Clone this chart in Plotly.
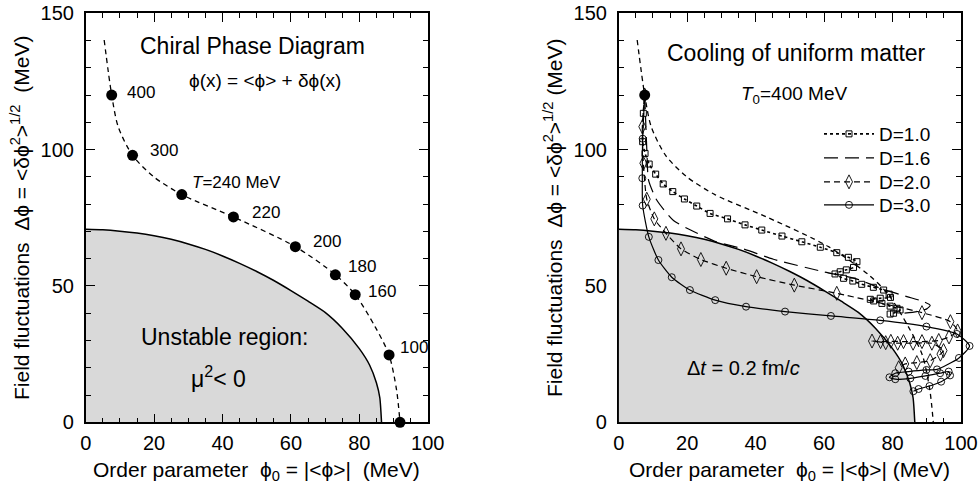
import plotly.graph_objects as go

# ---------------- data ----------------
# instability boundary (mu^2 = 0)
boundary_x = [0, 5, 10, 15, 20, 25, 30, 35, 40, 45, 50, 55, 60, 65, 70, 75, 80, 83, 85, 86, 86.5]
boundary_y = [70.8, 70.6, 70.1, 69.4, 68.4, 67.1, 65.4, 63.4, 61.0, 58.3, 55.3, 52.0, 48.3, 44.4, 40.3, 34.5, 27.0, 21.0, 14.5, 9.0, 0]

# equilibrium curve (dashed)
eq_x = [5.4, 7.6, 9.5, 13.7, 19.8, 28.1, 43.2, 61.3, 73.0, 78.8, 84.6, 88.7, 90.9, 91.9]
eq_y = [140.2, 120.0, 108.4, 97.9, 90.1, 83.5, 75.3, 64.4, 54.1, 46.8, 35.1, 24.7, 11.8, 0]

# temperature points on the equilibrium curve
temp_x = [7.6, 13.7, 28.1, 43.2, 61.3, 73.0, 78.8, 88.7, 91.9]
temp_y = [120.0, 97.9, 83.5, 75.3, 64.4, 54.1, 46.8, 24.7, 0]
temp_labels = ["400", "300", "<i>T</i>=240 MeV", "220", "200", "180", "160", "100", ""]

# cooling trajectories
d10_x = [7.6, 7.2, 7.0, 7.7, 8.9, 10.8, 13.0, 15.8, 19.2, 22.8, 26.7, 31.8, 36.9, 41.8, 47.7, 53.5, 58.9,
         63.7, 67.1, 69.6, 68.6, 66.5, 64.7, 63.2, 65.7, 68.4, 71.0, 74.4, 77.4, 79.0, 79.4, 76.4, 73.5,
         74.5, 76.9, 79.3, 81.3, 82.2, 80.3, 79.3]
d10_y = [120, 113.3, 102.9, 98.6, 94.7, 91.0, 87.4, 84.6, 81.9, 79.3, 76.6, 74.6, 72.4, 70.5, 68.3, 66.2, 64.2,
         62.2, 60.5, 58.9, 56.8, 55.9, 55.2, 54.4, 52.8, 51.8, 50.6, 49.5, 48.5, 47.0, 45.8, 45.5, 45.1,
         44.5, 43.6, 42.6, 41.8, 41.2, 40.0, 39.7]

d16_x = [7.6, 7.9, 8.3, 8.7, 11.1, 16.0, 21.0, 28.5, 36.4, 45.2, 59.8, 69.6, 77.4, 84.2, 89.0, 91.0, 90.0, 87.1, 83.5]
d16_y = [120, 110, 97.4, 88.9, 81.5, 74.0, 70.5, 66.2, 63.6, 59.8, 55.2, 52.5, 48.7, 46.1, 44.3, 42.9, 41.6, 40.6, 40.0]

d20_x = [7.6, 6.9, 7.2, 8.2, 10.4, 13.8, 18.2, 24.0, 31.4, 40.3, 51.3, 63.7, 88.6, 96.9, 99.0, 96.5, 93.5,
         88.6, 83.2, 79.5, 76.5, 74.0, 78.0, 81.5, 86.0, 91.5, 94.9, 94.0, 91.0, 87.1, 83.7, 81.8]
d20_y = [120, 108.4, 95.0, 81.8, 74.6, 69.3, 63.6, 59.7, 56.5, 53.4, 50.3, 47.3, 40.2, 36.9, 33.5, 31.3, 30.0,
         29.6, 29.6, 29.7, 29.6, 29.8, 29.2, 29.0, 29.0, 29.0, 26.3, 25.0, 22.6, 21.9, 21.4, 20.0]

d30_x = [7.6, 7.0, 6.9, 7.0, 8.8, 11.6, 15.5, 20.8, 28.2, 37.2, 48.6, 62.0, 76.4, 89.9, 98.8, 102.5, 99.4,
         93.0, 89.9, 84.7, 80.8, 79.1, 80.8, 85.2, 89.6, 93.9, 96.4, 96.8, 94.2, 90.8, 87.6, 86.1]
d30_y = [120, 104.0, 89.5, 79.5, 68.0, 59.5, 53.2, 48.5, 44.8, 42.4, 40.6, 39.0, 37.4, 35.1, 32.4, 28.0, 23.6,
         19.4, 19.2, 18.6, 18.0, 16.5, 15.8, 16.1, 17.0, 18.0, 18.6, 17.2, 14.9, 13.3, 12.2, 11.4]

series_names = ["D=1.0", "D=1.6", "D=2.0", "D=3.0"]

x_ticks = [0, 20, 40, 60, 80, 100]
y_ticks = [0, 50, 100, 150]

# ---------------- layout geometry ----------------
W, H = 979, 487
FONT = "Liberation Sans, Arial, Helvetica, sans-serif"
LX = [85.7 / W, 427.7 / W]
RX = [618.7 / W, 961.0 / W]
RX_EXT = [618.7 / W, 1.0]
RX_EXT_MAX = 100 * (W - 618.7) / (961.0 - 618.7)
YD = [(H - 422.3) / H, (H - 13.25) / H]

fig = go.Figure()

GRAY = "#d9d9d9"

def add_region(xa, ya):
    fig.add_trace(go.Scatter(x=boundary_x, y=boundary_y, mode="lines", fill="tozeroy",
                             fillcolor=GRAY, line=dict(color="black", width=1.5, shape="spline", smoothing=0.6),
                             xaxis=xa, yaxis=ya, showlegend=False, hoverinfo="skip"))
    fig.add_trace(go.Scatter(x=eq_x, y=eq_y, mode="lines",
                             line=dict(color="black", width=1.3, dash="5px,4px", shape="spline", smoothing=0.8),
                             xaxis=xa, yaxis=ya, showlegend=False, hoverinfo="skip"))

# left panel
add_region("x", "y")
fig.add_trace(go.Scatter(x=temp_x, y=temp_y, mode="markers", marker=dict(color="black", size=11),
                         xaxis="x", yaxis="y", showlegend=False, cliponaxis=False))

# right panel (extended axis so the trajectories may leave the frame)
add_region("x3", "y3")

LW = 1.2
fig.add_trace(go.Scatter(x=d10_x, y=d10_y, mode="lines+markers", name=series_names[0], legend="legend",
                         line=dict(color="black", width=1.6, dash="dot", shape="spline", smoothing=0.6),
                         marker=dict(symbol="square-open", size=6, color="black", line=dict(width=1)),
                         xaxis="x3", yaxis="y3", cliponaxis=False))
fig.add_trace(go.Scatter(x=d16_x, y=d16_y, mode="lines", name=series_names[1], legend="legend2",
                         line=dict(color="black", width=LW, dash="14px,7px", shape="spline", smoothing=0.6),
                         xaxis="x3", yaxis="y3"))
fig.add_trace(go.Scatter(x=d20_x, y=d20_y, mode="lines+markers", name=series_names[2], legend="legend3",
                         line=dict(color="black", width=LW, dash="6px,4px", shape="spline", smoothing=0.6),
                         marker=dict(symbol="diamond-tall-open", size=10, color="black", line=dict(width=0.9)),
                         xaxis="x3", yaxis="y3", cliponaxis=False))
fig.add_trace(go.Scatter(x=d30_x, y=d30_y, mode="lines+markers", name=series_names[3], legend="legend4",
                         line=dict(color="black", width=LW, shape="spline", smoothing=0.6),
                         marker=dict(symbol="circle-open", size=7, color="black", line=dict(width=0.9)),
                         xaxis="x3", yaxis="y3", cliponaxis=False))
fig.add_trace(go.Scatter(x=temp_x[:1], y=temp_y[:1], mode="markers", marker=dict(color="black", size=11),
                         xaxis="x3", yaxis="y3", showlegend=False, cliponaxis=False))

def xaxis_style(domain, anchor):
    return dict(domain=domain, anchor=anchor, range=[0, 100], tickvals=x_ticks, ticks="inside",
                ticklen=9, tickwidth=1.2, tickcolor="black", showline=True, linecolor="black",
                linewidth=1.6, mirror="allticks", showgrid=False, zeroline=False, automargin=False,
                tickfont=dict(size=20, color="black", family=FONT), ticklabelstandoff=2,
                minor=dict(dtick=5, tick0=0, ticks="inside", ticklen=5, tickwidth=1, tickcolor="black"))

def yaxis_style(domain, anchor):
    return dict(domain=domain, anchor=anchor, range=[0, 150], tickvals=y_ticks, ticks="inside",
                ticklen=9, tickwidth=1.2, tickcolor="black", showline=True, linecolor="black",
                linewidth=1.6, mirror="allticks", showgrid=False, zeroline=False, automargin=False,
                tickfont=dict(size=20, color="black", family=FONT), ticklabelstandoff=6,
                minor=dict(dtick=10, tick0=0, ticks="inside", ticklen=5, tickwidth=1, tickcolor="black"))

hidden = dict(visible=False, showgrid=False, zeroline=False, automargin=False)

def legend_row(center_px):
    return dict(x=819 / W, y=(H - center_px) / H, xanchor="left", yanchor="middle",
                font=dict(size=19, family=FONT), bgcolor="rgba(0,0,0,0)",
                itemsizing="trace", itemwidth=50)

fig.update_layout(
    width=W, height=H, margin=dict(l=0, r=0, t=0, b=0, autoexpand=False),
    paper_bgcolor="white", plot_bgcolor="rgba(0,0,0,0)",
    font=dict(family=FONT, color="black"),
    xaxis=xaxis_style(LX, "y"), yaxis=yaxis_style(YD, "x"),
    xaxis2=xaxis_style(RX, "y2"), yaxis2=yaxis_style(YD, "x2"),
    xaxis3=dict(domain=RX_EXT, anchor="y3", range=[0, RX_EXT_MAX], **hidden),
    yaxis3=dict(domain=YD, anchor="x3", range=[0, 150], **hidden),
    legend=legend_row(134), legend2=legend_row(158), legend3=legend_row(182), legend4=legend_row(205),
    showlegend=True,
)

ann = []
# temperature labels
shifts = [(13, 3), (15, 5), (8, 12), (17, 4), (16, 5), (11, 8), (11, 3), (9, 7), (0, 0)]
for tx, ty, lab, (sx, sy) in zip(temp_x, temp_y, temp_labels, shifts):
    if lab:
        ann.append(dict(x=tx, y=ty, xref="x", yref="y", text=lab, showarrow=False, xanchor="left",
                        xshift=sx, yshift=sy, font=dict(size=17)))

C = dict(showarrow=False, xanchor="center", yanchor="middle")
ann += [
    dict(x=48.9, y=138, xref="x", yref="y", text="Chiral Phase Diagram", font=dict(size=23), **C),
    dict(x=52.4, y=125.5, xref="x", yref="y", text="ϕ(x) = &lt;ϕ&gt; + δϕ(x)", font=dict(size=19), **C),
    dict(x=40.8, y=31.4, xref="x", yref="y", text="Unstable region:", font=dict(size=23), **C),
    dict(x=38.7, y=16.7, xref="x", yref="y", text="μ<sup>2</sup>&lt; 0", font=dict(size=23), **C),
    dict(x=52.0, y=135.3, xref="x2", yref="y2", text="Cooling of uniform matter", font=dict(size=23), **C),
    dict(x=51.3, y=120.0, xref="x2", yref="y2", text="<i>T</i><sub>0</sub>=400 MeV", font=dict(size=19), **C),
    dict(x=36.4, y=19.8, xref="x2", yref="y2", text="Δ<i>t</i> = 0.2 fm/<i>c</i>", font=dict(size=20), **C),
    # axis titles
    dict(x=256.7 / W, y=(H - 471) / H, xref="paper", yref="paper",
         text="Order parameter  ϕ<sub>0</sub> = |&lt;ϕ&gt;|  (MeV)", font=dict(size=21), **C),
    dict(x=789.9 / W, y=(H - 471) / H, xref="paper", yref="paper",
         text="Order parameter  ϕ<sub>0</sub> = |&lt;ϕ&gt;| (MeV)", font=dict(size=21), **C),
    dict(x=20 / W, y=(H - 218) / H, xref="paper", yref="paper", textangle=-90,
         text="Field fluctuations  Δϕ = &lt;δϕ<sup>2</sup>&gt;<sup>1/2</sup>  (MeV)", font=dict(size=21), **C),
    dict(x=553 / W, y=(H - 218) / H, xref="paper", yref="paper", textangle=-90,
         text="Field fluctuations  Δϕ = &lt;δϕ<sup>2</sup>&gt;<sup>1/2</sup> (MeV)", font=dict(size=21), **C),
]
fig.update_layout(annotations=ann)

fig.write_html("out.html")
